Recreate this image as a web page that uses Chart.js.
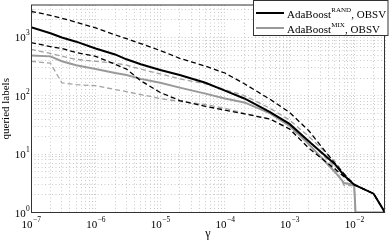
<!DOCTYPE html>
<html><head><meta charset="utf-8">
<script src="https://cdn.jsdelivr.net/npm/chart.js@4"></script>
<style>html,body{margin:0;padding:0;background:#fff}canvas{display:block}</style>
</head><body>
<canvas id="c" width="390" height="242"></canvas>
<script>
const gammaRand = [1e-7,2e-7,3e-7,5e-7,1e-6,2e-6,3e-6,5e-6,1e-5,2e-5,5e-5,1e-4,2e-4,5e-4,1e-3,2e-3,5e-3,7e-3,1e-2,2e-2,3e-2];
const randMean  = [1500,1180,1000,847,646,512,422,348,276,228,167,123,90,52.5,33,16.5,6.8,4.3,3.0,2.1,1];
const randUpper = [2800,2400,2140,1830,1455,1110,951,784,598,439,322,246,161,87,52,25,7.0,4.6,3.0,2.1,1];
const randLower = [815,698,646,554,474,348,287,181,114,83,66,57,49,40,27,12.6,5.6,4.1,3.0,2.1,1];
const gammaMix  = [1e-7,2e-7,3e-7,5e-7,1e-6,2e-6,3e-6,5e-6,1e-5,2e-5,5e-5,1e-4,2e-4,5e-4,1e-3,2e-3,5e-3,7e-3,1e-2,1.05e-2,3e-2];
const mixMean   = [493,474,391,335,287,246,228,195,167,138,109,90,77,50,30.5,14.7,5.0,3.2,3.0,1,1];
const mixUpper  = [622,533,474,422,391,362,335,287,237,195,161,128,101,61,38.5,20,7.6,4.5,3.0,1,1];
const mixLower  = [391,362,167,155,149,128,118,105,90,80,71,61,50,40,27,17,6.0,2.9,2.9,1,1];
const xTickExps = [-7,-6,-5,-4,-3,-2];
const yTickExps = [0,1,2,3];
const xMin = 1e-7, xMax = 0.03, yMin = 1, yMax = 3600;
const legendNames = [["AdaBoost","RAND",", OBSV"],["AdaBoost","MIX",", OBSV"]];

const zip = (xs, ys) => xs.map((x, i) => ({x, y: ys[i]}));
function logTicks(min, max){
  const t = [];
  for (let e = Math.floor(Math.log10(min)); e <= Math.ceil(Math.log10(max)); e++)
    for (let m = 1; m <= 9; m++){ const v = m * Math.pow(10, e); if (v >= min*0.999 && v <= max*1.001) t.push({value: v}); }
  return t;
}
const SERIF = '"Liberation Serif", "DejaVu Serif", serif';

const deco = {
  id: 'deco',
  afterDraw(chart){
    const {ctx, chartArea: a, scales: {x, y}} = chart;
    ctx.save();
    // frame
    ctx.strokeStyle = '#333'; ctx.lineWidth = 1;
    ctx.strokeRect(a.left + 0.5, a.top, a.right - a.left - 1, a.bottom - a.top);
    ctx.fillStyle = '#000';
    // x tick labels
    xTickExps.forEach(e => {
      const px = x.getPixelForValue(Math.pow(10, e));
      ctx.font = '11px ' + SERIF; const w1 = ctx.measureText('10').width;
      const sup = String(e).replace('-', '\u2212');
      ctx.font = '7.5px ' + SERIF; const w2 = ctx.measureText(sup).width;
      const s = px - (w1 + w2) / 2;
      ctx.textAlign = 'left'; ctx.textBaseline = 'alphabetic';
      ctx.font = '11px ' + SERIF; ctx.fillText('10', s, 228);
      ctx.font = '7.5px ' + SERIF; ctx.fillText(sup, s + w1 + 0.5, 221.5);
    });
    // y tick labels
    yTickExps.forEach(e => {
      const py = y.getPixelForValue(Math.pow(10, e));
      ctx.font = '7.5px ' + SERIF; const sup = String(e); const w2 = ctx.measureText(sup).width;
      ctx.font = '11px ' + SERIF; const w1 = ctx.measureText('10').width;
      const endX = 29.5; const s = endX - w1 - w2;
      ctx.textAlign = 'left';
      ctx.fillText('10', s, py + 4);
      ctx.font = '7.5px ' + SERIF; ctx.fillText(sup, s + w1 + 0.3, py - 2);
    });
    // axis titles
    ctx.font = '12px ' + SERIF; ctx.textAlign = 'center';
    ctx.fillText('\u03b3', (a.left + a.right) / 2, 237);
    ctx.save(); ctx.translate(9, (a.top + a.bottom) / 2); ctx.rotate(-Math.PI / 2);
    ctx.font = '11px ' + SERIF; ctx.fillText('queried labels', 0, 0); ctx.restore();
    // legend
    const lx = 253.5, ly = 0.5, lw = 134.5, lh = 35;
    ctx.fillStyle = '#fff'; ctx.fillRect(lx, ly, lw, lh);
    ctx.strokeStyle = '#333'; ctx.lineWidth = 1; ctx.strokeRect(lx, ly, lw, lh);
    const ds = chart.data.datasets;
    [0, 3].forEach((di, k) => {
      const yy = 13 + k * 15;
      ctx.strokeStyle = ds[di].borderColor; ctx.lineWidth = ds[di].borderWidth; ctx.setLineDash([]);
      ctx.beginPath(); ctx.moveTo(256, yy); ctx.lineTo(284, yy); ctx.stroke();
      const [a1, sp, a2] = legendNames[k];
      ctx.fillStyle = '#000'; ctx.textAlign = 'left';
      ctx.font = '11px ' + SERIF; ctx.fillText(a1, 287, yy + 4.5);
      let xx = 287 + ctx.measureText(a1).width;
      ctx.font = '7px ' + SERIF; ctx.fillText(sp, xx + 0.3, yy - 1.5);
      xx += ctx.measureText(sp).width + 0.5;
      ctx.font = '11px ' + SERIF; ctx.fillText(a2, xx, yy + 4.5);
    });
    ctx.restore();
  }
};

new Chart(document.getElementById('c'), {
  type: 'line',
  data: { datasets: [
    {label: 'AdaBoost RAND, OBSV', data: zip(gammaRand, randMean), borderColor: '#000', borderWidth: 2},
    {label: 'RAND upper', data: zip(gammaRand, randUpper), borderColor: '#000', borderWidth: 1.3, borderDash: [5, 3],
      pointStyle: 'crossRot', pointRadius: c => c.dataIndex === 0 ? 3 : 0, pointBorderColor: '#777', pointBorderWidth: 1},
    {label: 'RAND lower', data: zip(gammaRand, randLower), borderColor: '#000', borderWidth: 1.3, borderDash: [5, 3]},
    {label: 'AdaBoost MIX, OBSV', data: zip(gammaMix, mixMean), borderColor: '#999', borderWidth: 2},
    {label: 'MIX upper', data: zip(gammaMix, mixUpper), borderColor: '#a3a3a3', borderWidth: 1.3, borderDash: [5, 3]},
    {label: 'MIX lower', data: zip(gammaMix, mixLower), borderColor: '#a3a3a3', borderWidth: 1.3, borderDash: [5, 3]}
  ]},
  options: {
    responsive: false, animation: false, devicePixelRatio: 1,
    layout: {padding: {left: 0, right: 1, top: 0.5, bottom: 0}},
    elements: {point: {radius: 0}, line: {tension: 0}},
    plugins: {legend: {display: false}, tooltip: {enabled: false}},
    scales: {
      x: {type: 'logarithmic', min: xMin, max: xMax,
        afterBuildTicks: s => { s.ticks = logTicks(xMin, xMax); },
        afterFit: s => { s.height = 29.5; },
        ticks: {display: false}, grid: {color: '#bdbdbd', lineWidth: 0.8, drawTicks: false},
        border: {display: false, dash: [1, 2.5]}},
      y: {type: 'logarithmic', min: yMin, max: yMax,
        afterBuildTicks: s => { s.ticks = logTicks(yMin, yMax); },
        afterFit: s => { s.width = 31; },
        ticks: {display: false}, grid: {color: '#bdbdbd', lineWidth: 0.8, drawTicks: false},
        border: {display: false, dash: [1, 2.5]}}
    }
  },
  plugins: [deco]
});
</script>
</body></html>
